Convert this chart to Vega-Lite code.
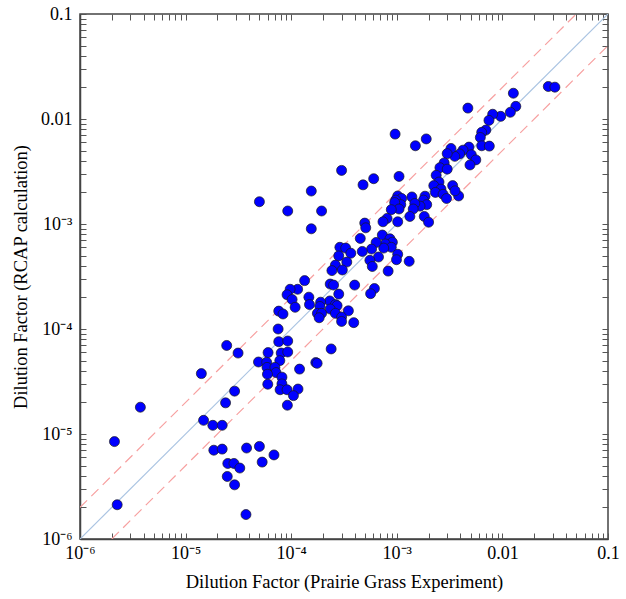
{
  "$schema": "https://vega.github.io/schema/vega-lite/v6.json",
  "width": 528,
  "height": 525,
  "autosize": "none",
  "padding": {"left": 80, "top": 14, "right": 18, "bottom": 60},
  "background": "white",
  "config": {"view": {"stroke": "#444", "strokeWidth": 1.5}, "font": "Liberation Serif"},
  "encoding": {
    "x": {"field": "x", "type": "quantitative",
      "scale": {"type": "log", "domain": [1e-6, 0.1], "nice": false},
      "axis": {"orient": "bottom", "ticks": false, "grid": true,
        "values": [1e-6,2e-6,3e-6,4e-6,5e-6,6e-6,7e-6,8e-6,9e-6,1e-5,2e-5,3e-5,4e-5,5e-5,6e-5,7e-5,8e-5,9e-5,1e-4,2e-4,3e-4,4e-4,5e-4,6e-4,7e-4,8e-4,9e-4,1e-3,2e-3,3e-3,4e-3,5e-3,6e-3,7e-3,8e-3,9e-3,0.01,0.02,0.03,0.04,0.05,0.06,0.07,0.08,0.09,0.1],
        "gridColor": "#555", "gridWidth": 1, "gridOpacity": 1, "gridDash": [6, 513],
        "labelExpr": "abs(log(datum.value)/LN10 - round(log(datum.value)/LN10)) < 0.001 ? (datum.value < 5e-6 ? '10⁻⁶' : datum.value < 5e-5 ? '10⁻⁵' : datum.value < 5e-4 ? '10⁻⁴' : datum.value < 5e-3 ? '10⁻³' : datum.value < 0.05 ? '0.01' : '0.1') : ''",
        "labelFont": "Liberation Serif", "labelFontSize": 18, "labelColor": "black",
        "labelOverlap": false, "labelFlush": false, "labelBound": false, "labelPadding": 5,
        "domainColor": "#444", "domainWidth": 1.5,
        "title": "Dilution Factor (Prairie Grass Experiment)", "titleFont": "Liberation Serif",
        "titleFontSize": 18.5, "titleFontWeight": "normal", "titleColor": "black", "titlePadding": 10}},
    "y": {"field": "y", "type": "quantitative",
      "scale": {"type": "log", "domain": [1e-6, 0.1], "nice": false},
      "axis": {"orient": "left", "ticks": false, "grid": true,
        "values": [1e-6,2e-6,3e-6,4e-6,5e-6,6e-6,7e-6,8e-6,9e-6,1e-5,2e-5,3e-5,4e-5,5e-5,6e-5,7e-5,8e-5,9e-5,1e-4,2e-4,3e-4,4e-4,5e-4,6e-4,7e-4,8e-4,9e-4,1e-3,2e-3,3e-3,4e-3,5e-3,6e-3,7e-3,8e-3,9e-3,0.01,0.02,0.03,0.04,0.05,0.06,0.07,0.08,0.09,0.1],
        "gridColor": "#555", "gridWidth": 1, "gridOpacity": 1, "gridDash": [6, 516],
        "labelExpr": "abs(log(datum.value)/LN10 - round(log(datum.value)/LN10)) < 0.001 ? (datum.value < 5e-6 ? '10⁻⁶' : datum.value < 5e-5 ? '10⁻⁵' : datum.value < 5e-4 ? '10⁻⁴' : datum.value < 5e-3 ? '10⁻³' : datum.value < 0.05 ? '0.01' : '0.1') : ''",
        "labelFont": "Liberation Serif", "labelFontSize": 18, "labelColor": "black",
        "labelOverlap": false, "labelFlush": false, "labelBound": false, "labelPadding": 8,
        "domainColor": "#444", "domainWidth": 1.5,
        "title": "Dilution Factor (RCAP calculation)", "titleFont": "Liberation Serif",
        "titleFontSize": 18.5, "titleFontWeight": "normal", "titleColor": "black", "titlePadding": 10}}
  },
  "layer": [
    {
      "data": {"values": [
        {"x": 1e-6, "y": 2e-6, "line": "upper"}, {"x": 0.05, "y": 0.1, "line": "upper"},
        {"x": 2e-6, "y": 1e-6, "line": "lower"}, {"x": 0.1, "y": 0.05, "line": "lower"}
      ]},
      "mark": {"type": "line", "strokeWidth": 1.2, "clip": true, "color": "#f7a0a0", "strokeDash": [10, 6]},
      "encoding": {"detail": {"field": "line", "type": "nominal"}}
    },
    {
      "data": {"values": [
        {"x": 1e-6, "y": 1e-6}, {"x": 0.1, "y": 0.1}
      ]},
      "mark": {"type": "line", "strokeWidth": 1.2, "clip": true, "color": "#aac4e2"},
      "encoding": {}
    },
    {
      "data": {"values": [
        {"x": 2.12e-6, "y": 8.47e-6}, {"x": 2.25e-6, "y": 2.12e-6}, {"x": 3.73e-6, "y": 1.80e-5},
        {"x": 1.41e-5, "y": 3.76e-5}, {"x": 1.48e-5, "y": 1.35e-5}, {"x": 1.81e-5, "y": 1.21e-5},
        {"x": 2.22e-5, "y": 1.21e-5}, {"x": 2.45e-5, "y": 6.97e-5}, {"x": 3.14e-5, "y": 5.90e-5},
        {"x": 2.91e-5, "y": 2.56e-5}, {"x": 2.39e-5, "y": 1.98e-5}, {"x": 1.85e-5, "y": 7.01e-6},
        {"x": 2.22e-5, "y": 7.18e-6}, {"x": 2.51e-5, "y": 5.24e-6}, {"x": 2.87e-5, "y": 5.24e-6},
        {"x": 3.26e-5, "y": 4.74e-6}, {"x": 2.48e-5, "y": 3.94e-6}, {"x": 2.91e-5, "y": 3.28e-6},
        {"x": 3.78e-5, "y": 7.35e-6}, {"x": 5.00e-5, "y": 7.62e-6}, {"x": 5.31e-5, "y": 5.40e-6},
        {"x": 6.87e-5, "y": 6.32e-6}, {"x": 3.73e-5, "y": 1.71e-6}, {"x": 5.00e-5, "y": 1.63e-3},
        {"x": 9.27e-5, "y": 1.33e-3}, {"x": 1.55e-4, "y": 2.06e-3}, {"x": 1.94e-4, "y": 1.33e-3},
        {"x": 1.55e-4, "y": 9.00e-4}, {"x": 3.00e-4, "y": 3.24e-3}, {"x": 4.79e-4, "y": 2.36e-3},
        {"x": 6.04e-4, "y": 2.70e-3}, {"x": 9.64e-4, "y": 7.18e-3}, {"x": 1.50e-3, "y": 5.56e-3},
        {"x": 1.90e-3, "y": 6.46e-3}, {"x": 1.05e-3, "y": 2.84e-3}, {"x": 4.71e-3, "y": 1.27e-2},
        {"x": 1.27e-2, "y": 1.76e-2}, {"x": 2.72e-2, "y": 2.04e-2}, {"x": 3.14e-2, "y": 2.01e-2},
        {"x": 1.34e-2, "y": 1.32e-2}, {"x": 1.19e-2, "y": 1.16e-2}, {"x": 9.64e-3, "y": 1.06e-2},
        {"x": 8.09e-3, "y": 1.11e-2}, {"x": 7.46e-3, "y": 9.70e-3}, {"x": 6.97e-3, "y": 7.85e-3},
        {"x": 6.37e-3, "y": 7.46e-3}, {"x": 6.18e-3, "y": 6.67e-3}, {"x": 6.37e-3, "y": 5.56e-3},
        {"x": 7.52e-3, "y": 5.52e-3}, {"x": 4.82e-3, "y": 5.40e-3}, {"x": 4.24e-3, "y": 5.05e-3},
        {"x": 5.08e-3, "y": 4.57e-3}, {"x": 5.60e-3, "y": 4.08e-3}, {"x": 4.93e-3, "y": 3.65e-3},
        {"x": 3.94e-3, "y": 4.65e-3}, {"x": 3.54e-3, "y": 4.41e-3}, {"x": 3.26e-3, "y": 5.24e-3},
        {"x": 3.00e-3, "y": 4.68e-3}, {"x": 2.81e-3, "y": 3.82e-3}, {"x": 2.56e-3, "y": 3.44e-3},
        {"x": 3.00e-3, "y": 3.33e-3}, {"x": 2.36e-3, "y": 2.91e-3}, {"x": 2.51e-3, "y": 2.51e-3},
        {"x": 2.24e-3, "y": 2.32e-3}, {"x": 2.62e-3, "y": 2.15e-3}, {"x": 2.32e-3, "y": 2.00e-3},
        {"x": 2.74e-3, "y": 1.92e-3}, {"x": 2.96e-3, "y": 1.75e-3}, {"x": 3.38e-3, "y": 2.32e-3},
        {"x": 3.85e-3, "y": 1.85e-3}, {"x": 1.85e-3, "y": 1.84e-3}, {"x": 1.79e-3, "y": 1.69e-3},
        {"x": 1.92e-3, "y": 1.53e-3}, {"x": 1.66e-3, "y": 1.48e-3}, {"x": 1.39e-3, "y": 1.81e-3},
        {"x": 1.48e-3, "y": 1.57e-3}, {"x": 1.43e-3, "y": 1.39e-3}, {"x": 1.33e-3, "y": 1.18e-3},
        {"x": 1.82e-3, "y": 1.18e-3}, {"x": 2.00e-3, "y": 1.04e-3}, {"x": 1.02e-3, "y": 1.85e-3},
        {"x": 1.11e-3, "y": 1.75e-3}, {"x": 9.77e-4, "y": 1.69e-3}, {"x": 1.09e-3, "y": 1.53e-3},
        {"x": 9.55e-4, "y": 1.60e-3}, {"x": 1.05e-3, "y": 1.39e-3}, {"x": 8.87e-4, "y": 1.37e-3},
        {"x": 1.02e-3, "y": 1.05e-3}, {"x": 8.09e-4, "y": 1.13e-3}, {"x": 7.40e-4, "y": 1.05e-3},
        {"x": 4.97e-4, "y": 1.02e-3}, {"x": 5.08e-4, "y": 9.20e-4}, {"x": 7.29e-4, "y": 7.85e-4},
        {"x": 8.61e-4, "y": 7.23e-4}, {"x": 9.08e-4, "y": 6.71e-4}, {"x": 7.80e-4, "y": 6.46e-4},
        {"x": 8.87e-4, "y": 6.00e-4}, {"x": 7.52e-4, "y": 5.90e-4}, {"x": 6.37e-4, "y": 6.67e-4},
        {"x": 5.77e-4, "y": 5.77e-4}, {"x": 6.71e-4, "y": 4.85e-4}, {"x": 1.02e-3, "y": 5.15e-4},
        {"x": 9.93e-4, "y": 4.57e-4}, {"x": 1.31e-3, "y": 4.41e-4}, {"x": 4.51e-4, "y": 7.29e-4},
        {"x": 4.71e-4, "y": 5.48e-4}, {"x": 5.56e-4, "y": 4.51e-4}, {"x": 5.86e-4, "y": 3.94e-4},
        {"x": 8.28e-4, "y": 3.56e-4}, {"x": 3.99e-4, "y": 2.62e-4}, {"x": 6.14e-4, "y": 2.43e-4},
        {"x": 5.65e-4, "y": 2.17e-4}, {"x": 2.89e-4, "y": 6.00e-4}, {"x": 3.28e-4, "y": 5.90e-4},
        {"x": 3.67e-4, "y": 5.27e-4}, {"x": 2.82e-4, "y": 4.97e-4}, {"x": 3.36e-4, "y": 4.34e-4},
        {"x": 2.62e-4, "y": 4.06e-4}, {"x": 2.43e-4, "y": 3.60e-4}, {"x": 3.05e-4, "y": 3.65e-4},
        {"x": 2.34e-4, "y": 2.68e-4}, {"x": 2.52e-4, "y": 2.62e-4}, {"x": 2.82e-4, "y": 2.15e-4},
        {"x": 2.32e-4, "y": 1.85e-4}, {"x": 2.62e-4, "y": 1.71e-4}, {"x": 2.72e-4, "y": 1.67e-4},
        {"x": 2.34e-4, "y": 1.55e-4}, {"x": 2.62e-4, "y": 1.41e-4}, {"x": 3.48e-4, "y": 1.49e-4},
        {"x": 3.00e-4, "y": 1.30e-4}, {"x": 3.00e-4, "y": 1.18e-4}, {"x": 3.91e-4, "y": 1.15e-4},
        {"x": 1.90e-4, "y": 1.80e-4}, {"x": 1.87e-4, "y": 1.64e-4}, {"x": 1.77e-4, "y": 1.41e-4},
        {"x": 1.94e-4, "y": 1.41e-4}, {"x": 1.84e-4, "y": 1.28e-4}, {"x": 1.47e-4, "y": 2.01e-4},
        {"x": 1.49e-4, "y": 1.71e-4}, {"x": 1.34e-4, "y": 2.89e-4}, {"x": 1.15e-4, "y": 2.39e-4},
        {"x": 9.77e-5, "y": 2.39e-4}, {"x": 9.14e-5, "y": 2.12e-4}, {"x": 1.02e-4, "y": 1.91e-4},
        {"x": 1.09e-4, "y": 1.61e-4}, {"x": 7.62e-5, "y": 1.48e-4}, {"x": 8.36e-5, "y": 1.39e-4},
        {"x": 7.52e-5, "y": 1.00e-4}, {"x": 7.62e-5, "y": 7.57e-5}, {"x": 9.27e-5, "y": 7.69e-5},
        {"x": 6.04e-5, "y": 5.96e-5}, {"x": 8.04e-5, "y": 5.90e-5}, {"x": 9.27e-5, "y": 6.04e-5},
        {"x": 4.90e-5, "y": 4.85e-5}, {"x": 5.86e-5, "y": 4.82e-5}, {"x": 7.80e-5, "y": 5.00e-5},
        {"x": 5.90e-5, "y": 4.31e-5}, {"x": 7.01e-5, "y": 4.31e-5}, {"x": 7.18e-5, "y": 3.85e-5},
        {"x": 5.96e-5, "y": 3.71e-5}, {"x": 8.17e-5, "y": 3.48e-5}, {"x": 6.00e-5, "y": 2.98e-5},
        {"x": 8.17e-5, "y": 3.00e-5}, {"x": 7.85e-5, "y": 2.64e-5}, {"x": 9.14e-5, "y": 2.64e-5},
        {"x": 1.16e-4, "y": 2.68e-5}, {"x": 1.20e-4, "y": 4.15e-5}, {"x": 1.05e-4, "y": 2.32e-5},
        {"x": 9.20e-5, "y": 1.88e-5}, {"x": 1.71e-4, "y": 4.79e-5}, {"x": 1.76e-4, "y": 4.71e-5},
        {"x": 2.39e-4, "y": 6.46e-5}, {"x": 3.56e-3, "y": 2.07e-3}
      ]},
      "mark": {"type": "circle", "size": 100, "color": "#0000ff", "stroke": "#1a1a1a", "strokeWidth": 0.7, "opacity": 1},
      "encoding": {}
    }
  ]
}
